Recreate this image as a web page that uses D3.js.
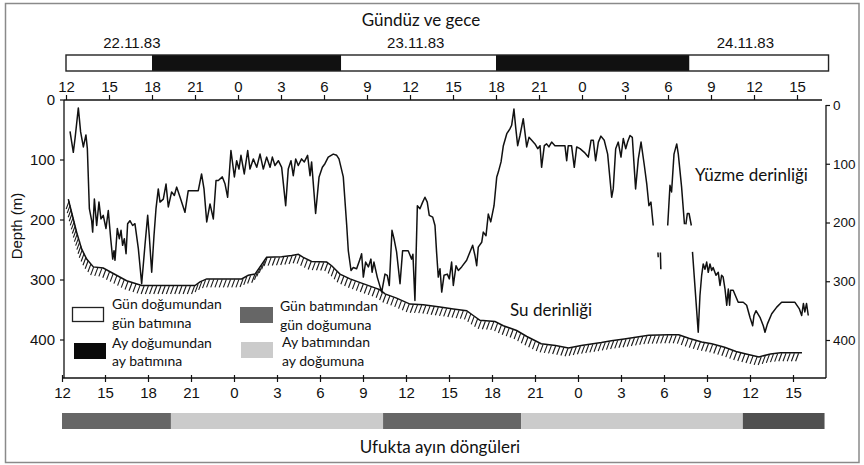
<!DOCTYPE html>
<html><head><meta charset="utf-8">
<script src="https://cdn.jsdelivr.net/npm/d3@7"></script>
<style>
html,body{margin:0;padding:0;background:#fff;}
svg{display:block;}
</style></head>
<body>
<svg id="c" width="864" height="465"></svg>
<script>
// ---------- DATA ----------
const hourTicks = [0,3,6,9,12,15,18,21,24,27,30,33,36,39,42,45,48,51]; // hours since 22.11.83 12:00
const hourLabels = ["12","15","18","21","0","3","6","9","12","15","18","21","0","3","6","9","12","15"];
const depthTicks = [0,100,200,300,400];
const dateLabels = ["22.11.83","23.11.83","24.11.83"];
const dateHours = [4.6, 24.4, 47.4];

// day/night bar (hours): 0 = day, 1 = night (moonrise to moonset)
const dayStart = [0, 6, 19.2, 30, 43.5];
const dayEnd   = [6, 19.2, 30, 43.5, 53.2];
const dayType  = [0, 1, 0, 1, 0];

// moon cycle bar
const moonStart = [0, 7.6, 22.4, 32.03, 47.5];
const moonEnd   = [7.6, 22.4, 32.03, 47.5, 53.2];
const moonColor = ["#666666", "#cbcbcb", "#666666", "#cbcbcb", "#505050"];

// swimming depth (hours, metres); null = gap in record
const swimHour = [0.42,0.65,0.77,1.0,1.16,1.35,1.53,1.63,1.77,1.93,2.0,2.12,2.28,2.44,2.58,2.74,2.93,3.09,3.26,3.40,3.49,3.56,3.72,3.86,3.98,4.09,4.21,4.33,4.44,4.6,4.79,4.95,5.19,5.42,5.65,5.84,5.95,6.12,6.28,6.42,6.58,6.7,6.93,7.12,7.28,7.51,7.7,7.86,8.14,8.44,8.67,9.37,9.6,9.77,9.96,10.19,10.42,10.61,10.77,11.05,11.24,11.42,11.65,11.89,12.05,12.21,12.35,12.58,12.82,12.98,13.21,13.45,13.68,13.91,14.14,14.38,14.54,14.72,14.96,15.19,15.47,15.65,15.84,16.0,16.17,16.35,16.58,16.77,17.0,17.17,17.28,17.56,17.8,18.03,18.21,18.44,18.79,19.03,19.19,19.49,19.73,19.84,20.03,20.19,20.42,20.66,20.77,20.89,21.05,21.24,21.42,21.5,21.63,21.86,22.17,22.4,22.56,22.7,22.89,23.03,23.21,23.45,23.63,24.02,24.26,24.35,24.49,24.66,24.84,25.03,25.19,25.35,25.49,25.73,25.89,26.0,26.12,26.24,26.36,26.52,26.75,26.89,27.05,27.17,27.36,27.52,27.75,28.1,28.33,28.52,28.68,28.8,28.91,29.15,29.26,29.45,29.61,29.78,30.01,30.2,30.31,30.5,30.66,30.9,31.12,31.24,31.4,31.52,31.66,31.82,32.05,32.29,32.45,32.64,32.87,33.06,33.22,33.33,33.52,33.68,33.84,34.03,34.26,34.96,35.08,35.19,35.42,35.61,35.78,36.01,36.31,36.59,36.78,36.94,37.1,37.29,37.47,37.7,37.94,38.22,38.33,38.5,38.68,38.87,39.03,39.2,39.33,39.5,39.66,39.89,40.08,40.27,40.5,40.67,40.82,40.96,41.12,41.3,41.45,41.47,41.55,41.62,41.65,41.9,42.13,42.29,42.4,42.57,42.76,42.87,43.1,43.3,43.35,43.4,43.5,43.62,43.78,43.82,43.86,44.26,44.38,44.5,44.61,44.73,44.85,44.96,45.08,45.2,45.3,45.5,45.66,45.78,45.89,46.0,46.13,46.25,46.36,46.45,46.52,46.7,47.05,47.4,47.64,47.87,48.06,48.15,48.29,48.57,48.8,48.92,49.09,49.39,49.74,50.08,51.01,51.32,51.48,51.6,51.7,51.82,51.94];
const swimDepth = [53,88,65,14,54,79,59,82,182,202,221,166,210,171,199,193,215,185,232,266,252,268,215,232,218,243,232,257,207,202,210,207,249,307,243,193,227,288,227,182,149,171,166,141,179,154,160,146,166,188,152,152,124,149,204,174,199,135,135,129,141,163,85,129,102,116,93,124,85,116,99,113,91,116,96,113,96,110,102,113,177,116,102,127,99,110,99,104,93,127,104,190,129,113,107,96,91,93,99,129,210,252,285,280,282,266,257,296,271,279,266,288,271,296,321,291,293,310,218,232,254,307,252,252,266,258,335,177,182,171,163,171,193,196,210,254,296,282,321,293,291,299,271,310,277,285,279,268,254,243,260,277,246,238,221,227,191,204,177,129,121,104,77,57,49,43,16,46,77,60,32,79,63,68,74,82,77,113,77,74,79,71,77,77,102,77,77,113,79,82,88,96,68,68,102,71,61,68,91,163,149,82,71,96,65,82,71,60,63,149,99,71,110,141,177,171,210,null,255,263,null,255,283,null,210,143,154,91,74,91,146,208,null,208,190,190,210,null,254,388,327,293,274,283,271,288,274,285,280,293,288,310,293,296,316,343,316,343,318,318,338,338,343,363,377,360,352,363,377,388,374,357,346,338,338,349,360,340,354,340,360];

// sea-floor (water depth) profile
const bedHour  = [0.3,0.53,0.88,1.23,1.58,2.05,2.74,3.44,4.37,5.42,9.14,9.49,9.96,12.4,12.86,13.33,14.14,15.19,15.89,16.35,16.7,17.28,18.33,18.68,19.26,19.96,20.77,21.7,22.05,22.4,23.21,24.15,25.07,26.24,27.17,28.1,28.56,29.03,30.08,30.66,31.59,32.3,33.3,34.3,35.2,36.1,37.5,38.2,39.1,40.8,42.2,42.9,43.6,44.5,45.2,46.1,46.9,47.6,48.5,49.3,50.0,51.5];
const bedDepth = [166,188,221,249,266,279,281,290,302,310,310,304,299,299,293,291,263,262,260,258,263,270,271,277,291,299,306,314,317,324,331,341,342,346,349,352,360,368,370,377,385,395,407,410,414,410,405,402,399,393,392,392,398,404,407,413,420,424,429,424,422,422];

// ---------- DRAW ----------
const svg = d3.select("#c");
const FONT_A = "'Liberation Sans', Arial, sans-serif";
const FONT_C = "Lato, 'Open Sans', sans-serif";

const x    = d3.scaleLinear().domain([0,51]).range([64, 794.8]);
const xTop = d3.scaleLinear().domain([0,51]).range([66, 797]);
const xBot = d3.scaleLinear().domain([0,51]).range([62, 793]);
const y    = d3.scaleLinear().domain([0,400]).range([99.5, 339.5]);
const yR   = d3.scaleLinear().domain([0,400]).range([105, 340]);

svg.append("rect").attr("x",0).attr("y",0).attr("width",864).attr("height",465).attr("fill","#fff");
svg.append("rect").attr("x",5.5).attr("y",3.5).attr("width",853.5).attr("height",459)
  .attr("fill","none").attr("stroke","#8a8a8a").attr("stroke-width",1.5);

svg.append("text").attr("x",421).attr("y",26).attr("text-anchor","middle")
  .attr("font-family",FONT_C).attr("font-size",17).attr("fill","#111").text("Gündüz ve gece");

svg.selectAll("text.date").data(dateLabels).join("text").attr("class","date")
  .attr("x",(d,i)=>xTop(dateHours[i])).attr("y",48).attr("text-anchor","middle")
  .attr("font-family",FONT_A).attr("font-size",15).attr("fill","#111").text(d=>d);

svg.selectAll("rect.day").data(dayStart).join("rect").attr("class","day")
  .attr("x",(d)=>xTop(d)).attr("y",55).attr("width",(d,i)=>xTop(dayEnd[i])-xTop(d)).attr("height",16)
  .attr("fill",(d,i)=>dayType[i]?"#111":"#fff");
svg.append("rect").attr("x",xTop(dayStart[0])).attr("y",55)
  .attr("width",xTop(dayEnd[dayEnd.length-1])-xTop(dayStart[0])).attr("height",16)
  .attr("fill","none").attr("stroke","#222").attr("stroke-width",1.4);

function styleAxis(g, fs){
  g.select(".domain").remove();
  g.selectAll(".tick line").attr("stroke","#111").attr("stroke-width",1.2);
  g.selectAll(".tick text").attr("font-family",FONT_A).attr("font-size",fs).attr("fill","#111");
}
const gTop = svg.append("g").attr("transform","translate(0,100)")
  .call(d3.axisTop(xTop).tickValues(hourTicks).tickFormat((d,i)=>hourLabels[i]).tickSize(5).tickPadding(3));
styleAxis(gTop,15);
const gBot = svg.append("g").attr("transform","translate(0,378)")
  .call(d3.axisBottom(xBot).tickValues(hourTicks).tickFormat((d,i)=>hourLabels[i]).tickSize(4).tickPadding(5));
styleAxis(gBot,15);
gBot.selectAll(".tick line").attr("y1",-3);
const gLeft = svg.append("g").attr("transform","translate(64,0)")
  .call(d3.axisLeft(y).tickValues(depthTicks).tickSize(4).tickPadding(5));
styleAxis(gLeft,15);
const gRight = svg.append("g").attr("transform","translate(826,0)")
  .call(d3.axisRight(yR).tickValues(depthTicks).tickSize(4).tickPadding(3));
styleAxis(gRight,13.5);

const frame = svg.append("g").attr("stroke","#111").attr("stroke-width",1.3).attr("fill","none");
frame.append("line").attr("x1",64).attr("x2",822).attr("y1",100).attr("y2",100);
frame.append("line").attr("x1",64).attr("x2",64).attr("y1",100).attr("y2",378);
frame.append("line").attr("x1",62).attr("x2",826).attr("y1",378).attr("y2",378);
frame.append("line").attr("x1",826).attr("x2",826).attr("y1",105).attr("y2",378);

svg.append("text").attr("transform","translate(22,226) rotate(-90)").attr("text-anchor","middle")
  .attr("font-family",FONT_A).attr("font-size",15).attr("fill","#111").text("Depth (m)");

// sea floor with hatching
const bedPts = bedHour.map((h,i)=>[x(h), y(bedDepth[i])]);
const bedPath = svg.append("path").attr("d", d3.line()(bedPts))
  .attr("fill","none").attr("stroke","#111").attr("stroke-width",1.5);
const node = bedPath.node();
const L = node.getTotalLength();
const hatch = [];
for(let s=1.5; s<L; s+=4.2){ const p=node.getPointAtLength(s); hatch.push([p.x,p.y]); }
svg.append("g").selectAll("line").data(hatch).join("line")
  .attr("x1",d=>d[0]+0.5).attr("y1",d=>d[1]+0.5).attr("x2",d=>d[0]-2.5).attr("y2",d=>d[1]+8.5)
  .attr("stroke","#1a1a1a").attr("stroke-width",1.1);

// swimming depth line
const swimPts = swimHour.map((h,i)=>[h, swimDepth[i]]);
svg.append("path").attr("d", d3.line().defined(d=>d[1]!==null).x(d=>x(d[0])).y(d=>y(d[1]))(swimPts))
  .attr("fill","none").attr("stroke","#111").attr("stroke-width",1.5).attr("stroke-linejoin","round");

svg.append("text").attr("x",695).attr("y",181).attr("font-family",FONT_C).attr("font-size",17)
  .attr("fill","#111").text("Yüzme derinliği");
svg.append("text").attr("x",510).attr("y",316).attr("font-family",FONT_C).attr("font-size",17)
  .attr("fill","#111").text("Su derinliği");

// legend
const leg = svg.append("g");
leg.append("rect").attr("x",72.5).attr("y",307.5).attr("width",31).attr("height",14).attr("fill","#fff").attr("stroke","#222").attr("stroke-width",1.3);
leg.append("rect").attr("x",74).attr("y",343).attr("width",32).attr("height",16).attr("fill","#0a0a0a");
leg.append("rect").attr("x",240).attr("y",307).attr("width",33).attr("height",16).attr("fill","#666666");
leg.append("rect").attr("x",241).attr("y",342).attr("width",32).attr("height",16).attr("fill","#cbcbcb");
const legText = [
  [112,304,"Gün doğumundan"],[112,323,"gün batımına"],
  [112,343,"Ay doğumundan"],[112,361,"ay batımına"],
  [280,306,"Gün batımından"],[280,325,"gün doğumuna"],
  [282,342,"Ay batımından"],[282,361,"ay doğumuna"]];
leg.selectAll("text").data(legText).join("text")
  .attr("x",d=>d[0]).attr("y",d=>d[1]).attr("dy","0.35em")
  .attr("font-family",FONT_C).attr("font-size",14).attr("fill","#111").text(d=>d[2]);

// moon cycle bar
svg.selectAll("rect.moon").data(moonStart).join("rect").attr("class","moon")
  .attr("x",d=>xBot(d)).attr("y",413).attr("width",(d,i)=>xBot(moonEnd[i])-xBot(d)).attr("height",16)
  .attr("fill",(d,i)=>moonColor[i]);

svg.append("text").attr("x",440).attr("y",453).attr("text-anchor","middle")
  .attr("font-family",FONT_C).attr("font-size",17).attr("fill","#111").text("Ufukta ayın döngüleri");
</script>
</body></html>
